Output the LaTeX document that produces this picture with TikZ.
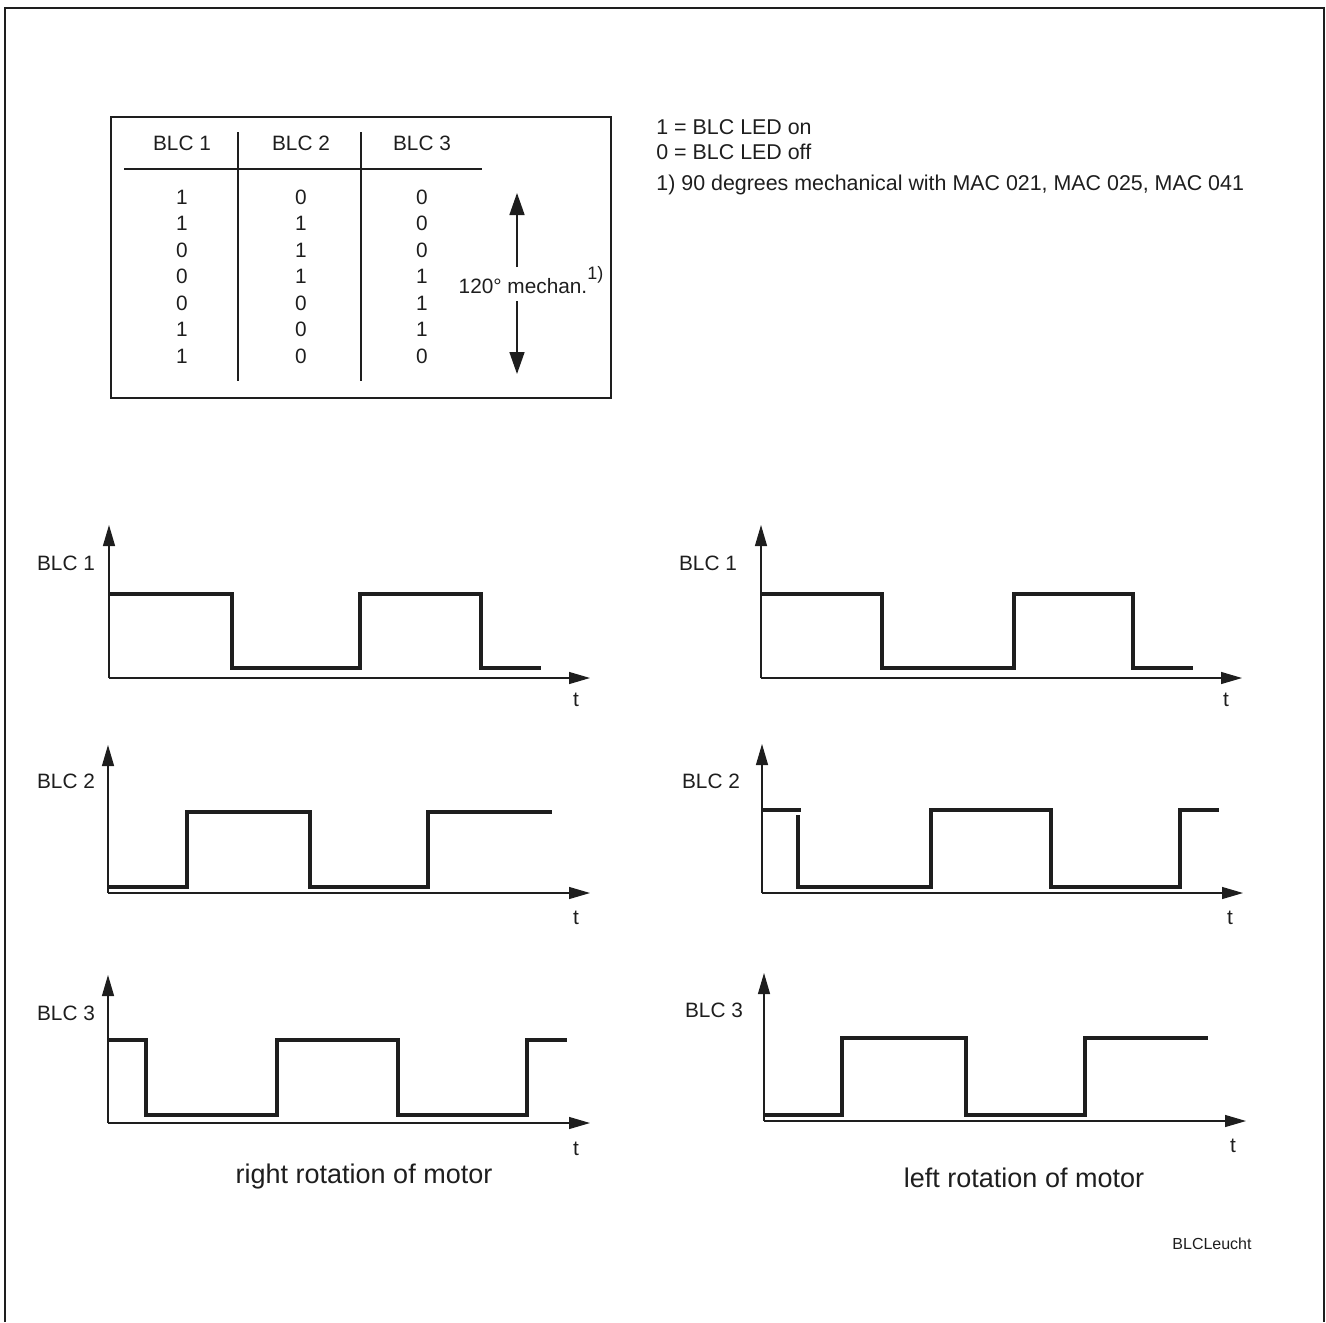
\documentclass[tikz,border=0pt]{standalone}
\usepackage{fontspec}
\setmainfont{Liberation Sans}
\usetikzlibrary{arrows.meta}
\definecolor{ink}{HTML}{1E1E1E}
\tikzset{
  frameline/.style={draw=ink, line width=1.2pt},
  tabline/.style={draw=ink, line width=1pt},
  axisline/.style={draw=ink, line width=0.6pt, -{Triangle[length=10.5pt,width=6pt]}},
  wave/.style={draw=ink, line width=1.7pt, line join=miter, line cap=butt},
  tabarrow/.style={draw=ink, line width=0.8pt, -{Triangle[length=11pt,width=7.5pt]}},
  txt/.style={inner sep=0pt, text=ink, font=\fontsize{10.4}{12}\selectfont},
  legtxt/.style={inner sep=0pt, text=ink, font=\fontsize{10.7}{12}\selectfont, anchor=base west},
  captxt/.style={inner sep=0pt, text=ink, font=\fontsize{13.5}{16}\selectfont, anchor=base},
}
\begin{document}
\begin{tikzpicture}[x=0.5pt,y=-0.5pt]
\useasboundingbox (0,0) rectangle (1326,1322);
% outer frame (open at bottom)
\draw[frameline] (5,1322) -- (5,8) -- (1324,8) -- (1324,1322);

% ---------- table ----------
\draw[tabline] (111,117) rectangle (611,398);
\draw[tabline] (238,132) -- (238,381);
\draw[tabline] (361,132) -- (361,381);
\draw[tabline] (124,169) -- (482,169);
\node[txt,anchor=base] (h1) at (182,150) {BLC 1};
\node[txt,anchor=base] (h2) at (301,150) {BLC 2};
\node[txt,anchor=base] (h3) at (422,150) {BLC 3};
\foreach \a/\b/\c [count=\i from 0] in {1/0/0,1/1/0,0/1/0,0/1/1,0/0/1,1/0/1,1/0/0}{
  \node[txt,anchor=base] (ra\i) at (182,{204+26.5*\i}) {\a};
  \node[txt,anchor=base] (rb\i) at (301,{204+26.5*\i}) {\b};
  \node[txt,anchor=base] (rc\i) at (422,{204+26.5*\i}) {\c};
}
\coordinate (arrtop) at (517,193);
\coordinate (arrbot) at (517,374);
\coordinate (arrup) at (517,267);
\coordinate (arrdn) at (517,301);
\draw[tabarrow] (arrup) -- (arrtop);
\draw[tabarrow] (arrdn) -- (arrbot);
\node[txt,anchor=base] (mech) at (523,293) {120° mechan.};
\node[inner sep=0pt, text=ink, font=\fontsize{9}{10}\selectfont, anchor=north west] (fn) at (587,266) {1)};

% ---------- legend ----------
\node[legtxt] (l1) at (656,134) {1 = BLC LED on};
\node[legtxt] (l2) at (656,159) {0 = BLC LED off};
\node[legtxt] (l3) at (656,190) {1) 90 degrees mechanical with MAC 021, MAC 025, MAC 041};

% ---------- left: right rotation ----------
% BLC 1
\draw[axisline] (109,678) -- (109,525);
\draw[axisline] (109,678) -- (590,678);
\draw[wave] (109,594) -- (232,594) -- (232,668) -- (360,668) -- (360,594) -- (481,594) -- (481,668) -- (541,668);
\node[txt] (lb1) at (66,563) {BLC 1};
\node[txt] (lt1) at (576,700) {t};
% BLC 2
\draw[axisline] (108,893) -- (108,745);
\draw[axisline] (108,893) -- (590,893);
\draw[wave] (108,887) -- (187,887) -- (187,812) -- (310,812) -- (310,887) -- (428,887) -- (428,812) -- (552,812);
\node[txt] (lb2) at (66,781) {BLC 2};
\node[txt] (lt2) at (576,918) {t};
% BLC 3
\draw[axisline] (108,1123) -- (108,975);
\draw[axisline] (108,1123) -- (590,1123);
\draw[wave] (108,1040) -- (146,1040) -- (146,1115) -- (277,1115) -- (277,1040) -- (398,1040) -- (398,1115) -- (527,1115) -- (527,1040) -- (567,1040);
\node[txt] (lb3) at (66,1013) {BLC 3};
\node[txt] (lt3) at (576,1149) {t};
\node[captxt] (capl) at (364,1183) {right rotation of motor};

% ---------- right: left rotation ----------
% BLC 1
\draw[axisline] (761,678) -- (761,525);
\draw[axisline] (761,678) -- (1242,678);
\draw[wave] (761,594) -- (882,594) -- (882,668) -- (1014,668) -- (1014,594) -- (1133,594) -- (1133,668) -- (1193,668);
\node[txt] (rb1) at (708,563) {BLC 1};
\node[txt] (rt1) at (1226,700) {t};
% BLC 2
\draw[axisline] (762,893) -- (762,744);
\draw[axisline] (762,893) -- (1243,893);
\draw[wave] (762,810) -- (801,810);
\draw[wave] (798,815) -- (798,887) -- (931,887) -- (931,810) -- (1051,810) -- (1051,887) -- (1180,887) -- (1180,810) -- (1219,810);
\node[txt] (rb2) at (711,781) {BLC 2};
\node[txt] (rt2) at (1230,918) {t};
% BLC 3
\draw[axisline] (764,1121) -- (764,973);
\draw[axisline] (764,1121) -- (1246,1121);
\draw[wave] (764,1115) -- (842,1115) -- (842,1038) -- (966,1038) -- (966,1115) -- (1085,1115) -- (1085,1038) -- (1208,1038);
\node[txt] (rb3) at (714,1010) {BLC 3};
\node[txt] (rt3) at (1233,1146) {t};
\node[captxt] (capr) at (1024,1187) {left rotation of motor};

\node[inner sep=0pt, text=ink, font=\fontsize{8}{10}\selectfont] (tag) at (1212,1244) {BLCLeucht};
\end{tikzpicture}
\end{document}
